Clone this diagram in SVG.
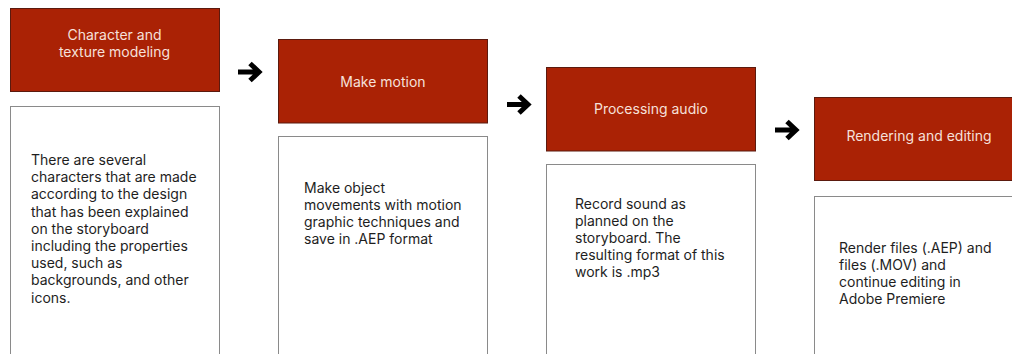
<svg xmlns="http://www.w3.org/2000/svg" width="1012" height="354" viewBox="0 0 1012 354">
  <defs>
    <style>
      .head { fill: #aa2205; stroke: #5b1a0e; stroke-width: 1; }
      .body { fill: #ffffff; stroke: #8a8a8a; stroke-width: 1; }
      .title { font-family: Inter, "Liberation Sans", sans-serif; font-size: 14px; fill: #f6e0da; text-anchor: middle; }
      .txt { font-family: Inter, "Liberation Sans", sans-serif; font-size: 14px; fill: #1e1e1e; }
      .arrow { fill: none; stroke: #000000; stroke-width: 5; stroke-linejoin: miter; stroke-linecap: butt; }
    </style>
    <g id="arr">
      <path class="arrow" d="M0 0 H19 M12 -8.5 L21 0 L12 8.5"/>
    </g>
  </defs>
  <rect width="1012" height="354" fill="#ffffff"/>

  <g id="connectors">
    <use href="#arr" x="238" y="72"/>
    <use href="#arr" x="507" y="104.5"/>
    <use href="#arr" x="775" y="130"/>
  </g>

  <g id="node1">
    <rect class="head" x="10.5" y="8.5" width="209" height="83"/>
    <text class="title" x="114.5" y="40">Character and</text>
    <text class="title" x="114.5" y="57">texture modeling</text>
    <rect class="body" x="10.5" y="106.5" width="209" height="260"/>
    <text class="txt" x="31" y="165">
      <tspan x="31" y="165">There are several</tspan>
      <tspan x="31" y="182.2">characters that are made</tspan>
      <tspan x="31" y="199.4">according to the design</tspan>
      <tspan x="31" y="216.6">that has been explained</tspan>
      <tspan x="31" y="233.8">on the storyboard</tspan>
      <tspan x="31" y="251">including the properties</tspan>
      <tspan x="31" y="268.2">used, such as</tspan>
      <tspan x="31" y="285.4">backgrounds, and other</tspan>
      <tspan x="31" y="302.6">icons.</tspan>
    </text>
  </g>

  <g id="node2">
    <rect class="head" x="278.5" y="39.5" width="209" height="83.5"/>
    <text class="title" x="383" y="86.5">Make motion</text>
    <rect class="body" x="278.5" y="136.5" width="209" height="240"/>
    <text class="txt">
      <tspan x="304" y="192.5">Make object</tspan>
      <tspan x="304" y="209.5">movements with motion</tspan>
      <tspan x="304" y="226.5">graphic techniques and</tspan>
      <tspan x="304" y="243.5">save in .AEP format</tspan>
    </text>
  </g>

  <g id="node3">
    <rect class="head" x="546.5" y="67.5" width="209" height="83.5"/>
    <text class="title" x="651" y="114">Processing audio</text>
    <rect class="body" x="546.5" y="164.5" width="209" height="220"/>
    <text class="txt">
      <tspan x="575" y="208.5">Record sound as</tspan>
      <tspan x="575" y="225.5">planned on the</tspan>
      <tspan x="575" y="242.5">storyboard. The</tspan>
      <tspan x="575" y="259.5">resulting format of this</tspan>
      <tspan x="575" y="276.5">work is .mp3</tspan>
    </text>
  </g>

  <g id="node4">
    <rect class="head" x="814.5" y="97.5" width="209" height="83"/>
    <text class="title" x="919" y="141">Rendering and editing</text>
    <rect class="body" x="814.5" y="196.5" width="209" height="200"/>
    <text class="txt">
      <tspan x="839" y="252.5">Render files (.AEP) and</tspan>
      <tspan x="839" y="269.5">files (.MOV) and</tspan>
      <tspan x="839" y="286.5">continue editing in</tspan>
      <tspan x="839" y="303.5">Adobe Premiere</tspan>
    </text>
  </g>
</svg>
